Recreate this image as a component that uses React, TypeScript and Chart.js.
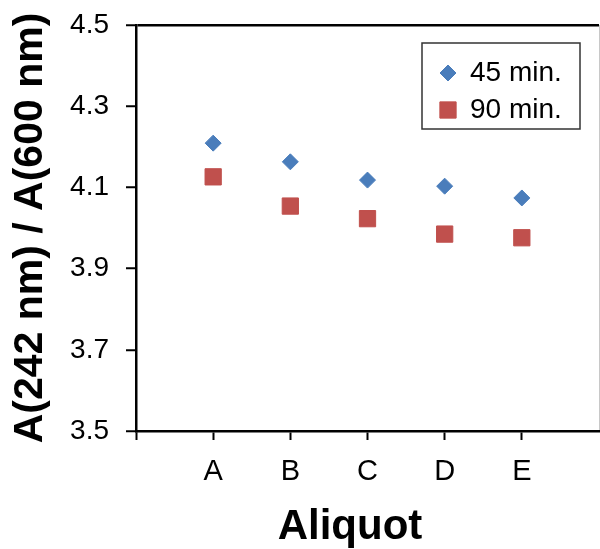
import React, { useEffect, useRef } from "react";
import { Chart, registerables } from "chart.js";

Chart.register(...registerables);

const categories = ["A", "B", "C", "D", "E"];
const seriesNames = ["45 min.", "90 min."];
const values45 = [4.209, 4.163, 4.118, 4.103, 4.074];
const values90 = [4.126, 4.054, 4.023, 3.985, 3.976];
const yTicks = [3.5, 3.7, 3.9, 4.1, 4.3, 4.5];

const BLUE = "#4a7dbb";
const RED = "#c0504d";
const FONT = "'Liberation Sans', Arial, sans-serif";

const legendPlugin = {
  id: "insideLegend",
  afterDraw(chart: any) {
    const { ctx, chartArea } = chart;
    const w = 158;
    const h = 86;
    const left = chartArea.right - 19 - w;
    const top = chartArea.top + 18;
    ctx.save();
    ctx.strokeStyle = "#333";
    ctx.lineWidth = 1.5;
    ctx.strokeRect(left, top, w, h);
    const ys = [top + 30, top + 67];
    chart.data.datasets.forEach((ds: any, i: number) => {
      const cx = left + 26;
      const cy = ys[i];
      const r = ds.pointRadius;
      ctx.fillStyle = ds.backgroundColor;
      ctx.strokeStyle = ds.borderColor;
      ctx.lineWidth = 1;
      ctx.beginPath();
      if (ds.pointStyle === "rectRot") {
        ctx.moveTo(cx - r, cy);
        ctx.lineTo(cx, cy - r);
        ctx.lineTo(cx + r, cy);
        ctx.lineTo(cx, cy + r);
        ctx.closePath();
      } else {
        const s = Math.SQRT1_2 * r;
        ctx.rect(cx - s, cy - s, 2 * s, 2 * s);
      }
      ctx.fill();
      ctx.stroke();
      ctx.fillStyle = "#000";
      ctx.font = `28px ${FONT}`;
      ctx.textAlign = "left";
      ctx.textBaseline = "middle";
      ctx.fillText(ds.label, left + 48, cy);
    });
    ctx.restore();
  },
};

const zeroPad = (s: any) => {
  s.paddingTop = 0;
  s.paddingBottom = 0;
  s.paddingLeft = 0;
  s.paddingRight = 0;
};

export default function App() {
  const ref = useRef<HTMLCanvasElement | null>(null);

  useEffect(() => {
    if (!ref.current) return;
    Chart.defaults.font.family = FONT;
    const chart = new Chart(ref.current, {
      type: "scatter",
      data: {
        datasets: [
          {
            label: seriesNames[0],
            data: values45.map((v, i) => ({ x: i + 1, y: v })),
            pointStyle: "rectRot",
            pointRadius: 8,
            backgroundColor: BLUE,
            borderColor: BLUE,
            borderWidth: 1,
          },
          {
            label: seriesNames[1],
            data: values90.map((v, i) => ({ x: i + 1, y: v })),
            pointStyle: "rect",
            pointRadius: 11.5,
            backgroundColor: RED,
            borderColor: RED,
            borderWidth: 1,
          },
        ] as any,
      },
      options: {
        animation: false,
        responsive: false,
        devicePixelRatio: 1,
        layout: { autoPadding: false, padding: { top: 25, right: 1, left: 0, bottom: 0 } },
        plugins: {
          legend: { display: false },
          tooltip: { enabled: false },
        },
        scales: {
          x: {
            type: "linear",
            min: 0,
            max: categories.length + 1,
            afterFit: (s: any) => {
              s.height = 118;
              zeroPad(s);
            },
            border: { display: true, color: "#000", width: 2.5 },
            grid: {
              color: (c: any) =>
                c.tick && c.tick.value === categories.length + 1 ? "#c8c8c8" : "rgba(0,0,0,0)",
              lineWidth: 1,
              tickColor: (c: any) =>
                c.tick && c.tick.value === categories.length + 1 ? "rgba(0,0,0,0)" : "#000",
              tickLength: 9,
              tickWidth: 2,
            },
            ticks: {
              stepSize: 1,
              autoSkip: false,
              maxRotation: 0,
              padding: 15,
              color: "#000",
              font: { size: 29 },
              callback: (v: any) => categories[Number(v) - 1] ?? "",
            },
            title: {
              display: true,
              text: "Aliquot   ",
              color: "#000",
              font: { size: 42, weight: "bold", lineHeight: 1 },
              padding: { top: 0, bottom: 1 },
            },
          },
          y: {
            type: "linear",
            min: yTicks[0],
            max: yTicks[yTicks.length - 1],
            afterFit: (s: any) => {
              s.width = 136;
              zeroPad(s);
            },
            border: { display: true, color: "#000", width: 2.5 },
            grid: {
              color: (c: any) =>
                c.tick && c.tick.value === yTicks[yTicks.length - 1] ? "#000" : "rgba(0,0,0,0)",
              lineWidth: 2.5,
              tickColor: "#000",
              tickLength: 10,
              tickWidth: 2,
            },
            afterBuildTicks: (s: any) => {
              s.ticks = yTicks.map((v) => ({ value: v }));
            },
            ticks: {
              padding: 17,
              color: "#000",
              font: { size: 28 },
              callback: (v: any) => Number(v).toFixed(1),
            },
            title: {
              display: true,
              text: "A(242 nm) / A(600 nm)",
              color: "#000",
              font: { size: 41, weight: "bold", lineHeight: 1.2 },
              padding: { top: 6, bottom: 0 },
            },
          },
        },
      },
      plugins: [legendPlugin],
    });
    return () => chart.destroy();
  }, []);

  return (
    <div style={{ position: "absolute", left: 0, top: 0, width: 600, height: 549, background: "#fff" }}>
      <canvas ref={ref} width={600} height={549} />
    </div>
  );
}
